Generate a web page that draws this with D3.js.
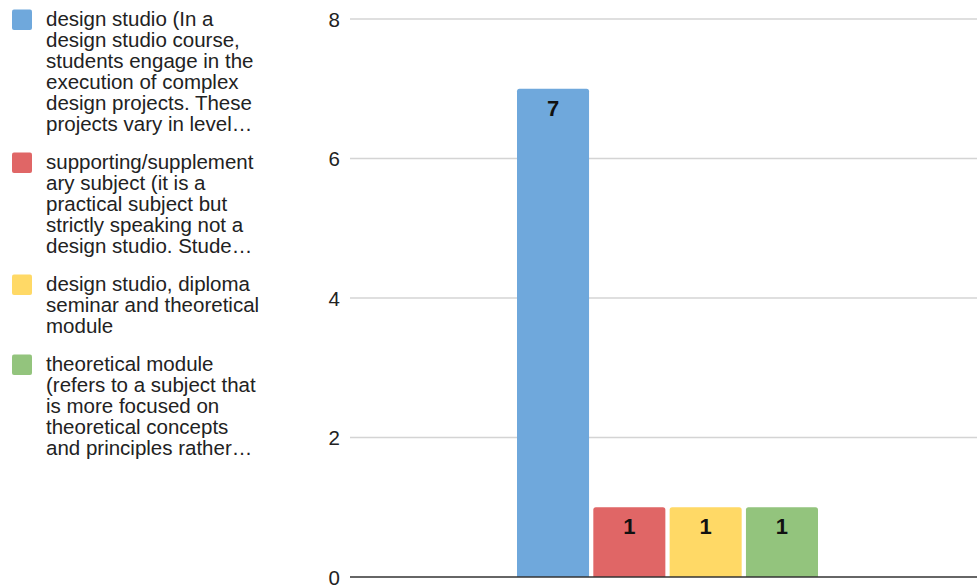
<!DOCTYPE html>
<html>
<head>
<meta charset="utf-8">
<script src="https://cdn.jsdelivr.net/npm/d3@7"></script>
<style>
  html, body { margin: 0; padding: 0; background: #fff; }
  svg { display: block; font-family: "Liberation Sans", Arial, sans-serif; }
</style>
</head>
<body>
<svg id="chart" width="977" height="586"></svg>
<script>
// Course types and how many courses fall into each
const seriesNames = [
  "design studio",
  "supporting/supplementary subject",
  "design studio, diploma seminar and theoretical module",
  "theoretical module"
];
const seriesValues = [7, 1, 1, 1];
const seriesColors = ["#6fa8dc", "#e06666", "#ffd966", "#93c47d"];
const legendLines = [
  ["design studio (In a", "design studio course,", "students engage in the", "execution of complex", "design projects. These", "projects vary in level\u2026"],
  ["supporting/supplement", "ary subject (it is a", "practical subject but", "strictly speaking not a", "design studio. Stude\u2026"],
  ["design studio, diploma", "seminar and theoretical", "module"],
  ["theoretical module", "(refers to a subject that", "is more focused on", "theoretical concepts", "and principles rather\u2026"]
];
const yTicks = [0, 2, 4, 6, 8];

const svg = d3.select("#chart");

const y = d3.scaleLinear().domain([0, 8]).range([577, 19]);
const x = d3.scaleBand().domain(seriesNames).range([517, 818]).paddingInner(0.056).paddingOuter(0);

// Gridlines and y-axis labels
const yAxis = d3.axisLeft(y).tickValues(yTicks).tickSize(0).tickPadding(0).tickFormat(d3.format("d"));
const gAxis = svg.append("g").attr("transform", "translate(340,0)").call(yAxis);
gAxis.select(".domain").remove();
gAxis.selectAll("text").attr("font-size", 20.5).attr("fill", "#222").attr("dy", "0.35em")
  .attr("font-family", "Liberation Sans, Arial, sans-serif");

svg.append("g").selectAll("line").data(yTicks.filter(d => d !== 0)).join("line")
  .attr("x1", 350).attr("x2", 977)
  .attr("y1", d => y(d)).attr("y2", d => y(d))
  .attr("stroke", "#d4d4d4").attr("stroke-width", 1.3);

// Bars with slightly rounded tops
const r = 2.5;
svg.append("g").selectAll("path").data(seriesNames).join("path")
  .attr("fill", (d, i) => seriesColors[i])
  .attr("d", (d, i) => {
    const x0 = x(d), x1 = x(d) + x.bandwidth();
    const y0 = y(0), y1 = y(seriesValues[i]);
    return `M${x0},${y0}V${y1 + r}Q${x0},${y1} ${x0 + r},${y1}H${x1 - r}Q${x1},${y1} ${x1},${y1 + r}V${y0}Z`;
  });

// Value labels inside bars
svg.append("g").selectAll("text").data(seriesNames).join("text")
  .attr("x", d => x(d) + x.bandwidth() / 2)
  .attr("y", (d, i) => y(seriesValues[i]) + 27)
  .attr("text-anchor", "middle")
  .attr("font-size", 22).attr("font-weight", "bold").attr("fill", "#111")
  .text((d, i) => seriesValues[i]);

// Baseline
svg.append("line")
  .attr("x1", 350).attr("x2", 977)
  .attr("y1", y(0)).attr("y2", y(0))
  .attr("stroke", "#333").attr("stroke-width", 1.5);

// Legend
const lineH = 21;
const itemTops = [];
let cursorY = 8;
legendLines.forEach(lines => { itemTops.push(cursorY); cursorY += lines.length * lineH + 17; });

const leg = svg.append("g").selectAll("g").data(seriesNames).join("g")
  .attr("transform", (d, i) => `translate(0,${itemTops[i]})`);
leg.append("rect")
  .attr("x", 12).attr("y", 1.5).attr("width", 20).attr("height", 20.5).attr("rx", 2)
  .attr("fill", (d, i) => seriesColors[i]);
leg.append("text")
  .attr("font-size", 20.5).attr("fill", "#222")
  .selectAll("tspan").data((d, i) => legendLines[i]).join("tspan")
  .attr("x", 46).attr("y", (d, j) => 18 + j * lineH)
  .text(d => d);
</script>
</body>
</html>
